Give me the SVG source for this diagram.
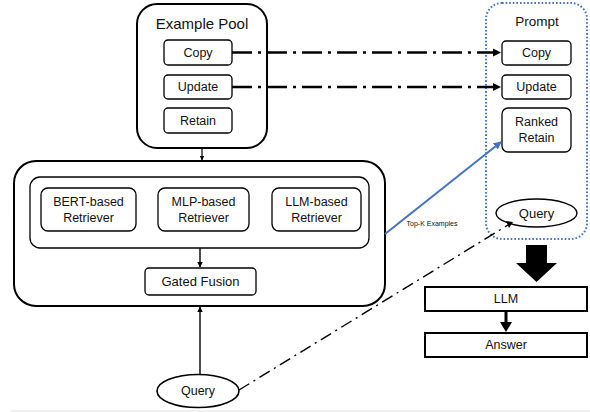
<svg xmlns="http://www.w3.org/2000/svg" width="590" height="412" viewBox="0 0 590 412">
<defs>
<style>
text{font-family:"Liberation Sans","Open Sans",Arial,sans-serif;fill:#111;text-anchor:middle;dominant-baseline:central}
.t12{font-size:12.5px}
.outer{fill:#fff;stroke:#000;stroke-width:2}
.box{fill:#fff;stroke:#000;stroke-width:1.3}
.sq{fill:#fff;stroke:#000;stroke-width:2}
.dd{fill:none;stroke:#000;stroke-width:2.6;stroke-dasharray:20 6 3 6}
.dd2{fill:none;stroke:#000;stroke-width:1.4;stroke-dasharray:12 5 2 5}
</style>
<marker id="ahs" viewBox="0 0 10 10" refX="9" refY="5" markerWidth="4" markerHeight="4" orient="auto"><path d="M0,0 L10,5 L0,10 z" fill="#000"/></marker>
<marker id="ahb" viewBox="0 0 10 10" refX="9" refY="5" markerWidth="4" markerHeight="4" orient="auto"><path d="M0,0 L10,5 L0,10 z" fill="#4472C4"/></marker>
</defs>
<rect x="0" y="0" width="590" height="412" fill="#fff"/>
<rect x="10" y="410" width="580" height="2" fill="#f2f2f2"/>

<g id="example-pool">
<rect class="outer" x="137" y="4" width="130" height="144" rx="20"/>
<text x="202" y="23" font-size="15">Example Pool</text>
<rect class="box" x="164" y="40" width="68" height="25" rx="4"/>
<text class="t12" x="198" y="52.5">Copy</text>
<rect class="box" x="164" y="75" width="68" height="24" rx="4"/>
<text class="t12" x="198" y="87">Update</text>
<rect class="box" x="164" y="108" width="68" height="25" rx="4"/>
<text class="t12" x="198" y="120.5">Retain</text>
</g>

<g id="retriever">
<rect class="outer" x="14" y="161" width="371" height="145" rx="22"/>
<rect class="box" x="30" y="177" width="339" height="71" rx="10"/>
<rect class="box" x="41" y="188" width="95" height="43" rx="7"/>
<text class="t12" x="88.5" y="202">BERT-based</text>
<text class="t12" x="88.5" y="218">Retriever</text>
<rect class="box" x="158" y="188" width="91" height="43" rx="7"/>
<text class="t12" x="203.5" y="202">MLP-based</text>
<text class="t12" x="203.5" y="218">Retriever</text>
<rect class="box" x="272" y="188" width="89" height="43" rx="7"/>
<text class="t12" x="316.5" y="202">LLM-based</text>
<text class="t12" x="316.5" y="218">Retriever</text>
<rect class="box" x="145" y="268" width="111" height="27" rx="4"/>
<text x="200.5" y="281.5" font-size="13">Gated Fusion</text>
</g>

<g id="query-input">
<ellipse cx="198" cy="391" rx="41" ry="16.5" fill="#fff" stroke="#000" stroke-width="1.6"/>
<text class="t12" x="198" y="391">Query</text>
</g>

<g id="prompt">
<rect x="486" y="3" width="101" height="236" rx="16" fill="none" stroke="#4472C4" stroke-width="2" stroke-dasharray="1.6 2"/>
<text x="537" y="21" font-size="13.5">Prompt</text>
<rect class="box" x="502" y="41" width="69" height="24" rx="4"/>
<text class="t12" x="536.5" y="53">Copy</text>
<rect class="box" x="502" y="75" width="69" height="24" rx="4"/>
<text class="t12" x="536.5" y="87">Update</text>
<rect class="box" x="502" y="108" width="69" height="44" rx="6"/>
<text class="t12" x="536.5" y="122">Ranked</text>
<text class="t12" x="536.5" y="138">Retain</text>
<ellipse cx="536.5" cy="213" rx="40.5" ry="14" fill="#fff" stroke="#000" stroke-width="1.4"/>
<text x="536.5" y="213" font-size="13">Query</text>
</g>

<g id="llm">
<rect class="sq" x="425" y="287" width="162" height="24"/>
<text class="t12" x="506" y="299">LLM</text>
</g>
<g id="answer">
<rect class="sq" x="425" y="333" width="162" height="24"/>
<text class="t12" x="506" y="345">Answer</text>
</g>

<g id="connectors">
<line x1="202" y1="148" x2="202" y2="160" stroke="#000" stroke-width="1.2" marker-end="url(#ahs)"/>
<line x1="200" y1="248" x2="200" y2="267" stroke="#000" stroke-width="1.4" marker-end="url(#ahs)"/>
<line x1="200" y1="374.5" x2="200" y2="307" stroke="#000" stroke-width="1.4" marker-end="url(#ahs)"/>
<line class="dd" x1="232" y1="52.5" x2="494" y2="52.5"/>
<path d="M493,48.5 L501,52.5 L493,56.5 z" fill="#000"/>
<line class="dd" x1="232" y1="87" x2="494" y2="87"/>
<path d="M493,83 L501,87 L493,91 z" fill="#000"/>
<line x1="385" y1="234" x2="501" y2="142" stroke="#4472C4" stroke-width="2" marker-end="url(#ahb)"/>
<text x="432" y="223" font-size="7">Top-K Examples</text>
<line class="dd2" x1="239" y1="390" x2="508" y2="225"/>
<path d="M506,221 L513,222 L509,228 z" fill="#000"/>
<path d="M526,245 L547,245 L547,263 L557,263 L536.5,282 L516,263 L526,263 z" fill="#000"/>
<line x1="506" y1="311" x2="506" y2="323" stroke="#000" stroke-width="3"/>
<path d="M500,322 L512,322 L506,332 z" fill="#000"/>
</g>
</svg>
